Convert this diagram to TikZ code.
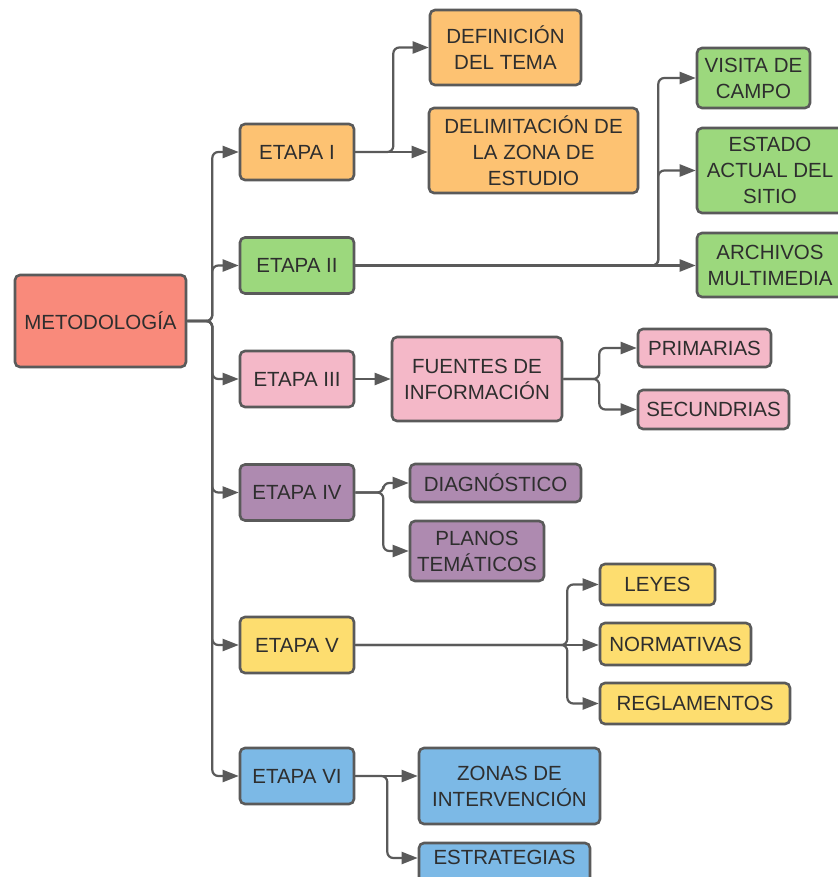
\documentclass[tikz,border=0pt]{standalone}
\usepackage{fontspec}
\setmainfont{Liberation Sans}
\usetikzlibrary{arrows.meta,calc}
\definecolor{cmeto}{HTML}{F98A7B}
\definecolor{corange}{HTML}{FDC272}
\definecolor{cgreen}{HTML}{9CD87D}
\definecolor{cpink}{HTML}{F4B8C8}
\definecolor{cpurple}{HTML}{AE8AB0}
\definecolor{cyellow}{HTML}{FDDD6F}
\definecolor{cblue}{HTML}{7CB9E6}
\definecolor{cborder}{HTML}{5A5A5A}
\definecolor{ctext}{HTML}{2E2E2E}
\tikzset{
  box/.style={draw=cborder, line width=2.6pt, rounded corners=5pt, inner sep=0pt,
    align=center, text=ctext, font=\fontsize{20.5}{26}\selectfont},
  conn/.style={draw=cborder, line width=2.2pt, rounded corners=6pt,
    -{Triangle[length=16pt,width=12pt]}},
}
\begin{document}
\begin{tikzpicture}[x=1pt,y=-1pt]
\useasboundingbox[fill=white] (0,0) rectangle (837,877);
% root
\node[box, fill=cmeto, minimum width=171, minimum height=92] (meto) at (100.5,321) {METODOLOGÍA};
% stages
\node[box, fill=corange, minimum width=114, minimum height=56] (e1) at (297,152) {ETAPA I};
\node[box, fill=cgreen, minimum width=114, minimum height=56] (e2) at (297,265.5) {ETAPA II};
\node[box, fill=cpink, minimum width=114, minimum height=56] (e3) at (297,379) {ETAPA III};
\node[box, fill=cpurple, minimum width=114, minimum height=56] (e4) at (297,492.5) {ETAPA IV};
\node[box, fill=cyellow, minimum width=114, minimum height=56] (e5) at (297,645) {ETAPA V};
\node[box, fill=cblue, minimum width=114, minimum height=56] (e6) at (297,776) {ETAPA VI};
% etapa I
\node[box, fill=corange, minimum width=151, minimum height=75] (def) at (505.5,47.5) {DEFINICIÓN\\DEL TEMA};
\node[box, fill=corange, minimum width=209, minimum height=85] (delim) at (533.5,150.5) {DELIMITACIÓN DE\\LA ZONA DE\\ESTUDIO};
% etapa II
\node[box, fill=cgreen, minimum width=113, minimum height=60] (visita) at (753.5,78) {VISITA DE\\CAMPO};
\node[box, fill=cgreen, minimum width=146, minimum height=85] (estado) at (770,170.5) {ESTADO\\ACTUAL DEL\\SITIO};
\node[box, fill=cgreen, minimum width=146, minimum height=64] (arch) at (770,265) {ARCHIVOS\\MULTIMEDIA};
% etapa III
\node[box, fill=cpink, minimum width=170, minimum height=84] (fuentes) at (477,379) {FUENTES DE\\INFORMACIÓN};
\node[box, fill=cpink, minimum width=133, minimum height=38] (prim) at (704.5,348) {PRIMARIAS};
\node[box, fill=cpink, minimum width=151, minimum height=39] (sec) at (713.5,409.5) {SECUNDRIAS};
% etapa IV
\node[box, fill=cpurple, minimum width=171, minimum height=38] (diag) at (495.5,483) {DIAGNÓSTICO};
\node[box, fill=cpurple, minimum width=134, minimum height=60] (planos) at (477,551) {PLANOS\\TEMÁTICOS};
% etapa V
\node[box, fill=cyellow, minimum width=115, minimum height=41] (leyes) at (657.5,584.5) {LEYES};
\node[box, fill=cyellow, minimum width=151, minimum height=42] (norm) at (675.5,644) {NORMATIVAS};
\node[box, fill=cyellow, minimum width=190, minimum height=41] (regla) at (695,703.5) {REGLAMENTOS};
% etapa VI
\node[box, fill=cblue, minimum width=181, minimum height=76] (zonas) at (509.5,786) {ZONAS DE\\INTERVENCIÓN};
\node[box, fill=cblue, minimum width=171, text height=21pt, text depth=21pt] (estrat) at (504.5,864) {ESTRATEGIAS};

% trunk
\foreach \n in {e1,e2,e3,e4,e5,e6}
  \draw[conn] (meto.east) -- ([xshift=25pt]meto.east) |- (\n.west);
% etapa I
\draw[conn] (e1.east) -- ([xshift=38pt]e1.east) |- (def.west);
\draw[conn] (e1.east) -- (e1.east -| delim.west);
% etapa II
\draw[conn] (e2.east) -- (e2.east -| arch.west);
\draw[conn] (e2.east) -- ([xshift=303pt]e2.east) |- (visita.west);
\draw[conn] (e2.east) -- ([xshift=303pt]e2.east) |- (estado.west);
% etapa III
\draw[conn] (e3.east) -- (fuentes.west);
\draw[conn] (fuentes.east) -- ([xshift=36pt]fuentes.east) |- (prim.west);
\draw[conn] (fuentes.east) -- ([xshift=36pt]fuentes.east) |- (sec.west);
% etapa IV
\draw[conn] (e4.east) -- ([xshift=28pt]e4.east) |- (diag.west);
\draw[conn] (e4.east) -- ([xshift=28pt]e4.east) |- (planos.west);
% etapa V
\draw[conn] (e5.east) -- (e5.east -| norm.west);
\draw[conn] (e5.east) -- ([xshift=212pt]e5.east) |- (leyes.west);
\draw[conn] (e5.east) -- ([xshift=212pt]e5.east) |- (regla.west);
% etapa VI
\draw[conn] (e6.east) -- (e6.east -| zonas.west);
\draw[conn] (e6.east) -- ([xshift=32pt]e6.east) |- ([yshift=6pt]estrat.west);
\end{tikzpicture}
\end{document}
